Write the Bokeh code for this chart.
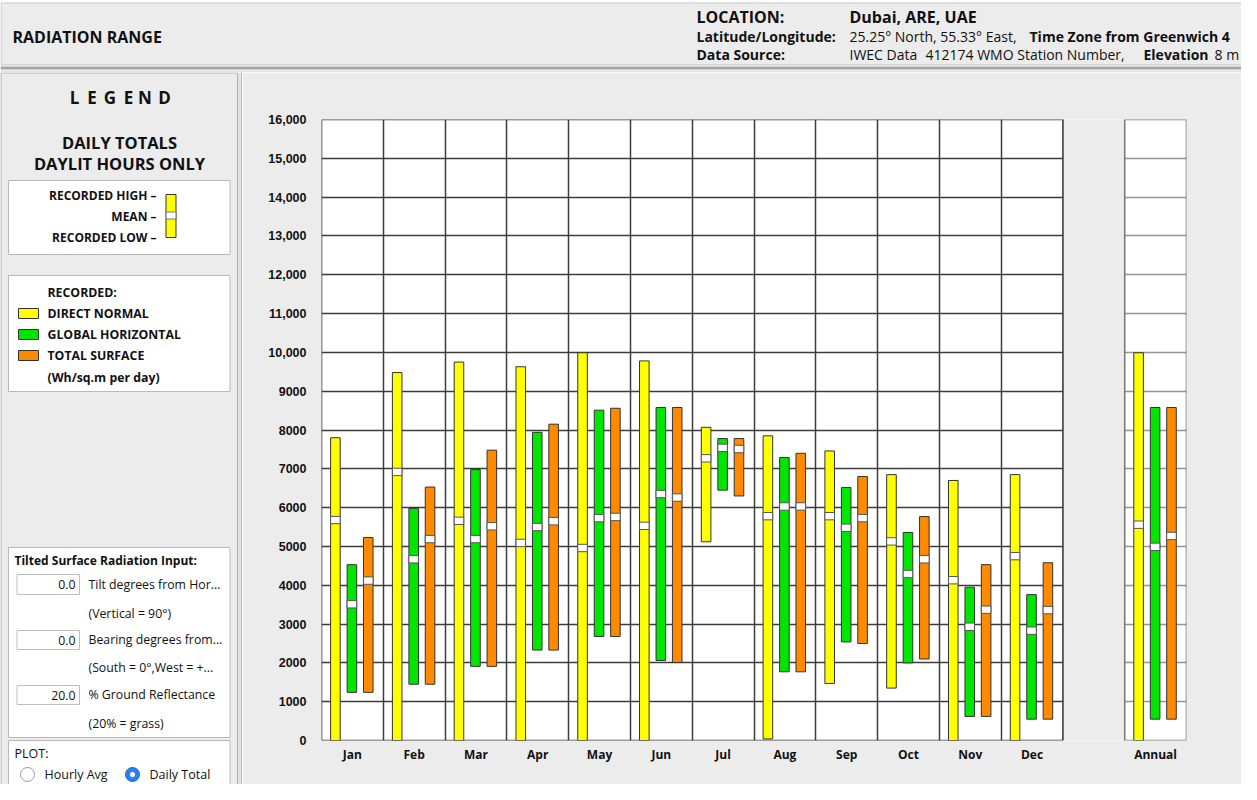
from bokeh.plotting import figure
from bokeh.layouts import column, row
from bokeh.models import Range1d, FixedTicker, CustomJSTickFormatter
from bokeh.core.properties import value
from bokeh.embed import file_html
from bokeh.resources import INLINE

# ---------------- data ----------------
months = ["Jan", "Feb", "Mar", "Apr", "May", "Jun", "Jul", "Aug", "Sep", "Oct", "Nov", "Dec"]
annual_label = "Annual"

# Direct normal (Wh/sq.m per day): recorded high / mean / recorded low
dn_high = [7800, 9480, 9750, 9630, 9990, 9780, 8070, 7850, 7460, 6850, 6700, 6850]
dn_mean = [5680, 6920, 5660, 5090, 4960, 5530, 7270, 5780, 5780, 5130, 4130, 4750]
dn_low = [0, 0, 0, 0, 0, 0, 5120, 40, 1470, 1350, 0, 0]
# Global horizontal
gh_high = [4530, 5980, 6980, 7940, 8510, 8580, 7780, 7290, 6520, 5360, 3950, 3760]
gh_mean = [3510, 4670, 5190, 5500, 5730, 6350, 7540, 6030, 5480, 4290, 2930, 2830]
gh_low = [1240, 1450, 1910, 2330, 2680, 2060, 6450, 1770, 2540, 2000, 620, 550]
# Total surface
ts_high = [5230, 6530, 7480, 8150, 8560, 8580, 7780, 7400, 6800, 5770, 4530, 4580]
ts_mean = [4120, 5190, 5520, 5650, 5760, 6260, 7510, 6030, 5730, 4670, 3370, 3360]
ts_low = [1240, 1450, 1910, 2330, 2680, 2010, 6300, 1770, 2500, 2100, 620, 550]
# Annual (high, mean, low)
annual_dn = [9990, 5560, 0]
annual_gh = [8580, 4990, 550]
annual_ts = [8580, 5270, 550]

y_ticks = list(range(0, 16001, 1000))
y_tick_labels = ["0", "1000", "2000", "3000", "4000", "5000", "6000", "7000", "8000", "9000",
                 "10,000", "11,000", "12,000", "13,000", "14,000", "15,000", "16,000"]

# ---------------- styles ----------------
PANEL = "#ececec"
YELLOW = "#ffff00"
GREEN = "#00e600"
ORANGE = "#ff8a00"
EDGE = "#333333"
UI_FONT = "Open Sans"
HEAD_FONT = "Open Sans"


def txt(p, x, y, s, size, bold=False, align="left", font=UI_FONT, color="#111111"):
    p.text(x=[x], y=[y], text=[s], text_font=value(font), text_font_size=f"{size}px",
           text_font_style="bold" if bold else "normal", text_align=align,
           text_baseline="middle", text_color=color)


def bare(width, height, xr, yr, bg):
    f = figure(width=width, height=height, x_range=Range1d(*xr), y_range=Range1d(*yr),
               x_axis_type=None, y_axis_type=None, output_backend="svg",
               toolbar_location=None, min_border=0, outline_line_color=None,
               background_fill_color=bg, border_fill_color=bg, frame_align=False)
    f.grid.visible = False
    return f


# ---------------- header ----------------
head = bare(1241, 72, (8, 1249), (80, 8), "white")
head.quad(left=[8.5], right=[1262], top=[10.5], bottom=[72], fill_color=PANEL, line_color="#c4c4c4")
head.quad(left=[8], right=[1262], top=[72], bottom=[80], fill_color="#e4e4e4", line_color=None)
head.segment(x0=[8], y0=[75.5], x1=[1262], y1=[75.5], line_color="#a4a4a4", line_width=2.5)
txt(head, 20, 44, "RADIATION RANGE", 16, True, font=HEAD_FONT)
txt(head, 704, 24, "LOCATION:", 16, True, font=HEAD_FONT)
txt(head, 857, 24, "Dubai, ARE, UAE", 16, True, font=HEAD_FONT)
txt(head, 704, 44, "Latitude/Longitude:", 14, True, font=HEAD_FONT)
txt(head, 857, 44, "25.25° North, 55.33° East,", 14, False, font=HEAD_FONT)
txt(head, 1037, 44, "Time Zone from Greenwich 4", 14, True, font=HEAD_FONT)
txt(head, 704, 62, "Data Source:", 14, True, font=HEAD_FONT)
txt(head, 857, 62, "IWEC Data", 14, False, font=HEAD_FONT)
txt(head, 933, 62, "412174 WMO Station Number,", 14, False, font=HEAD_FONT)
txt(head, 1151, 62, "Elevation", 14, True, font=HEAD_FONT)
txt(head, 1222, 62, "8 m", 14, False, font=HEAD_FONT)

# ---------------- left panel ----------------
left = bare(242, 712, (8, 250), (792, 80), "#e2e2e2")
left.quad(left=[8.5], right=[245], top=[80.5], bottom=[800], fill_color=PANEL, line_color="#b2b2b2")
left.segment(x0=[249.5], y0=[80], x1=[249.5], y1=[800], line_color="#b0b0b0", line_width=1.5)

for cx, ch in zip([82, 99.5, 117.5, 136, 152.5, 172], "LEGEND"):
    txt(left, cx, 105, ch, 17, True, align="center")
txt(left, 127, 150, "DAILY TOTALS", 16.5, True, align="center")
txt(left, 127, 171, "DAYLIT HOURS ONLY", 16.5, True, align="center")

for (t, b) in [(188, 262), (283, 399), (555, 745), (748, 805)]:
    left.quad(left=[16], right=[237.5], top=[t], bottom=[b], fill_color="white", line_color="#b8b8b8")

txt(left, 164, 203, "RECORDED HIGH –", 12, True, align="right")
txt(left, 164, 224, "MEAN –", 12, True, align="right")
txt(left, 164, 245, "RECORDED LOW –", 12, True, align="right")
left.quad(left=[173.5], right=[183.5], top=[202], bottom=[245], fill_color=YELLOW, line_color=EDGE)
left.quad(left=[173.5], right=[183.5], top=[219.5], bottom=[226.5], fill_color="white", line_color="#777777")

txt(left, 55, 300, "RECORDED:", 12.3, True)
for yy, col, lab in [(321, YELLOW, "DIRECT NORMAL"), (342, GREEN, "GLOBAL HORIZONTAL"),
                     (363, ORANGE, "TOTAL SURFACE")]:
    left.quad(left=[26], right=[46], top=[yy - 5], bottom=[yy + 5], fill_color=col, line_color=EDGE)
    txt(left, 55, yy, lab, 12.3, True)
txt(left, 55, 385, "(Wh/sq.m per day)", 12.3, True)

txt(left, 22, 568, "Tilted Surface Radiation Input:", 12, True)
for (t, b, v) in [(582, 602, "0.0"), (638, 657, "0.0"), (693, 712, "20.0")]:
    left.quad(left=[24.5], right=[87], top=[t], bottom=[b], fill_color="white", line_color="#c0c0c0")
    txt(left, 83, (t + b) / 2, v, 12.3, False, align="right")
txt(left, 96, 592, "Tilt degrees from Hor...", 12.3)
txt(left, 96, 621, "(Vertical = 90°)", 12.3)
txt(left, 96, 647, "Bearing degrees from...", 12.3)
txt(left, 96, 675, "(South = 0°,West = +...", 12.3)
txt(left, 96, 702, "% Ground Reflectance", 12.3)
txt(left, 96, 731, "(20% = grass)", 12.3)

txt(left, 22, 761, "PLOT:", 12.5)
left.scatter(x=[35], y=[782], size=14, marker="circle", fill_color="white", line_color="#9a9a9a")
txt(left, 52, 782, "Hourly Avg", 12.5)
left.scatter(x=[140], y=[782], size=14, marker="circle", fill_color="#2b7ff2", line_color="#1d66d6")
left.scatter(x=[140], y=[782], size=5, marker="circle", fill_color="white", line_color=None)
txt(left, 157, 782, "Daily Total", 12.5)

# ---------------- main chart ----------------
main = figure(width=999, height=712, x_range=Range1d(0, 14), y_range=Range1d(0, 16000),
              output_backend="svg", toolbar_location=None, frame_align=False,
              min_border_left=79, min_border_right=55, min_border_top=47, min_border_bottom=44,
              background_fill_color="white", border_fill_color=PANEL, outline_line_color=None)

labels_x = months + ["", annual_label]
main.xaxis.ticker = FixedTicker(ticks=[i + 0.5 for i in range(len(labels_x)) if labels_x[i]])
main.xaxis.formatter = CustomJSTickFormatter(args=dict(names=labels_x),
                                             code="return names[Math.floor(tick)];")
main.yaxis.ticker = FixedTicker(ticks=y_ticks)
main.yaxis.formatter = CustomJSTickFormatter(args=dict(ylabs=y_tick_labels, yvals=y_ticks),
                                             code="return ylabs[yvals.indexOf(Math.round(tick))];")
for ax in (main.xaxis[0], main.yaxis[0]):
    ax.axis_line_color = None
    ax.major_tick_line_color = None
    ax.minor_tick_line_color = None
    ax.major_tick_out = 0
    ax.major_tick_in = 0
    ax.major_label_text_font_style = "bold"
    ax.major_label_text_color = "#111111"
main.xaxis.major_label_text_font = UI_FONT
main.xaxis.major_label_text_font_size = "12px"
main.xaxis.major_label_standoff = 5
main.yaxis.major_label_text_font = "Liberation Sans"
main.yaxis.major_label_text_font_size = "12.5px"
main.yaxis.major_label_standoff = 15

main.xgrid.ticker = FixedTicker(ticks=list(range(1, 12)))
main.ygrid.ticker = FixedTicker(ticks=y_ticks[1:-1])
for g in (main.xgrid[0], main.ygrid[0]):
    g.grid_line_color = "#3c3c3c"
    g.grid_line_width = 1.5

# gap between December and Annual, lighter grid in Annual panel, frame borders
main.quad(left=[12], right=[13], bottom=[-1000], top=[17000], fill_color=PANEL, line_color=None)
main.quad(left=[13], right=[14], bottom=[0], top=[16000], fill_color="white", fill_alpha=0.45,
          line_color=None)
main.quad(left=[0], right=[12], bottom=[0], top=[16000], fill_color=None, line_color="#3c3c3c",
          line_width=1.6)
main.quad(left=[13], right=[14], bottom=[0], top=[16000], fill_color=None, line_color="#7a7a7a",
          line_width=1.6)

slots = list(range(12)) + [13]
bar_w = 0.155
mean_half = 95
series = [
    (0.225, YELLOW, dn_high + [annual_dn[0]], dn_mean + [annual_dn[1]], dn_low + [annual_dn[2]]),
    (0.492, GREEN, gh_high + [annual_gh[0]], gh_mean + [annual_gh[1]], gh_low + [annual_gh[2]]),
    (0.757, ORANGE, ts_high + [annual_ts[0]], ts_mean + [annual_ts[1]], ts_low + [annual_ts[2]]),
]
for off, col, hi, mn, lo in series:
    lefts = [s + off - bar_w / 2 for s in slots]
    rights = [s + off + bar_w / 2 for s in slots]
    main.quad(left=lefts, right=rights, bottom=lo, top=hi, fill_color=col, line_color=EDGE,
              line_width=1)
    main.quad(left=lefts, right=rights, bottom=[m - mean_half for m in mn],
              top=[m + mean_half for m in mn], fill_color="white", line_color="#555555",
              line_width=1)

layout = column(head, row(left, main))
open("out.html", "w").write(file_html(layout, INLINE))
